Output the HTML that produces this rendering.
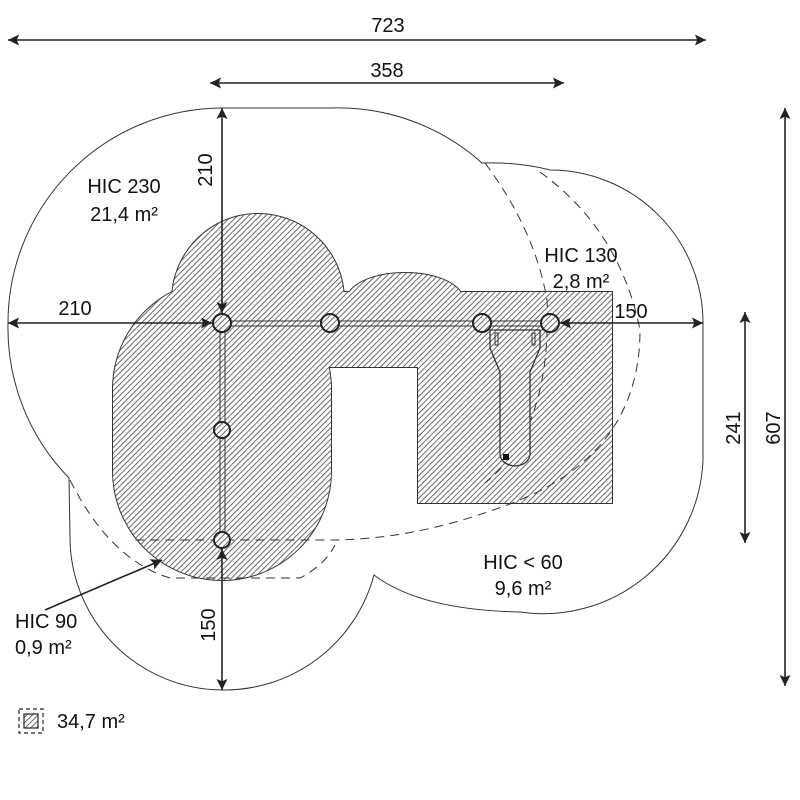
<!DOCTYPE html>
<html><head><meta charset="utf-8"><style>
body{margin:0;background:#fff}
svg{display:block}
text{font-family:"Liberation Sans","DejaVu Sans",sans-serif;fill:#111}
</style></head><body>
<svg width="800" height="800" viewBox="0 0 800 800" xmlns="http://www.w3.org/2000/svg">
<defs>
<pattern id="h" width="4" height="4" patternUnits="userSpaceOnUse" patternTransform="rotate(45)">
<rect width="4" height="4" fill="#fff"/>
<line x1="0" y1="0" x2="0" y2="4" stroke="#444" stroke-width="1.6"/>
</pattern>
<marker id="a" viewBox="0 0 10 10" refX="10" refY="5" markerWidth="11" markerHeight="11" markerUnits="userSpaceOnUse" orient="auto-start-reverse">
<path d="M0,0 L10,5 L0,10 L2,5 z" fill="#222"/>
</marker>
</defs>

<!-- outer boundary -->
<path d="M8,323 A215,215 0 0 1 222,108 L330,108 A216,216 0 0 1 482,163 Q520,162 550,170 A153,153 0 0 1 703,323 L703,460 A160,160 0 0 1 520,612 Q420,610 374,575 A155,155 0 0 1 222,690 A153,153 0 0 1 70,537 L69,478 A215,215 0 0 1 8,323 Z" fill="none" stroke="#333" stroke-width="1"/>

<!-- hatched area: stroke layer -->
<g stroke="#333" stroke-width="2" fill="#333">
<circle cx="258" cy="300" r="86"/>
<rect x="113" y="280" width="218" height="300" rx="109" ry="109"/>
<ellipse cx="405" cy="300" rx="58" ry="27"/>
<rect x="300" y="292" width="312" height="75"/>
<rect x="418" y="292" width="194" height="211"/>
</g>
<g fill="url(#h)">
<circle cx="258" cy="300" r="86"/>
<rect x="113" y="280" width="218" height="300" rx="109" ry="109"/>
<ellipse cx="405" cy="300" rx="58" ry="27"/>
<rect x="300" y="292" width="312" height="75"/>
<rect x="418" y="292" width="194" height="211"/>
</g>

<!-- dashed lines -->
<g fill="none" stroke="#333" stroke-width="1" stroke-dasharray="9,6">
<path d="M485,163 Q535,230 547,300 Q552,430 485,483"/>
<path d="M540,172 Q620,230 640,330 Q640,450 520,500 Q420,540 330,540 L130,540"/>
<path d="M70,480 Q110,560 170,578 L300,578 Q325,565 335,545"/>
</g>

<!-- beams -->
<g stroke="#333" stroke-width="1" fill="none">
<line x1="222" y1="321" x2="550" y2="321"/>
<line x1="222" y1="326" x2="550" y2="326"/>
<line x1="220" y1="323" x2="220" y2="540"/>
<line x1="225" y1="323" x2="225" y2="540"/>
</g>

<!-- slide -->
<g fill="url(#h)" stroke="#333" stroke-width="1.3">
<path d="M490,330 L540,330 L540,348 L530,372 L530,455 Q528,465 515,466 Q502,465 500,455 L500,372 L490,348 Z"/>
</g>
<g stroke="#333" fill="none" stroke-width="1">
<rect x="495" y="333" width="3" height="12"/><rect x="532" y="333" width="3" height="12"/>
</g>
<rect x="503" y="454" width="6" height="6" fill="#111"/>

<!-- posts -->
<g fill="url(#h)" stroke="#222" stroke-width="2">
<circle cx="222" cy="323" r="9"/><circle cx="330" cy="323" r="9"/>
<circle cx="482" cy="323" r="9"/><circle cx="550" cy="323" r="9"/>
<circle cx="222" cy="430" r="8"/><circle cx="222" cy="540" r="8"/>
</g>

<!-- dimensions -->
<g stroke="#222" stroke-width="1.6" fill="none" marker-start="url(#a)" marker-end="url(#a)">
<line x1="8" y1="40" x2="706" y2="40"/>
<line x1="210" y1="83" x2="564" y2="83"/>
<line x1="222" y1="108" x2="222" y2="313"/>
<line x1="8" y1="323" x2="212" y2="323"/>
<line x1="560" y1="323" x2="703" y2="323"/>
<line x1="745" y1="312" x2="745" y2="543"/>
<line x1="785" y1="108" x2="785" y2="686"/>
<line x1="222" y1="549" x2="222" y2="690"/>
</g>
<line x1="45" y1="610" x2="162" y2="560" stroke="#222" stroke-width="1.6" marker-end="url(#a)"/>

<g font-size="20">
<text x="388" y="32" text-anchor="middle">723</text>
<text x="387" y="77" text-anchor="middle">358</text>
<text x="75" y="315" text-anchor="middle">210</text>
<text x="631" y="318" text-anchor="middle">150</text>
<text transform="translate(212,170) rotate(-90)" text-anchor="middle">210</text>
<text transform="translate(740,428) rotate(-90)" text-anchor="middle">241</text>
<text transform="translate(780,428) rotate(-90)" text-anchor="middle">607</text>
<text transform="translate(215,625) rotate(-90)" text-anchor="middle">150</text>
<text x="124" y="193" text-anchor="middle">HIC 230</text>
<text x="124" y="221" text-anchor="middle">21,4 m²</text>
<text x="581" y="262" text-anchor="middle">HIC 130</text>
<text x="581" y="288" text-anchor="middle">2,8 m²</text>
<text x="523" y="569" text-anchor="middle">HIC &lt; 60</text>
<text x="523" y="595" text-anchor="middle">9,6 m²</text>
<text x="15" y="628">HIC 90</text>
<text x="15" y="654">0,9 m²</text>
<text x="57" y="728">34,7 m²</text>
</g>
<rect x="19" y="709" width="24" height="24" fill="none" stroke="#222" stroke-width="1.2" stroke-dasharray="4,3"/>
<rect x="24" y="714" width="14" height="14" fill="url(#h)" stroke="#222" stroke-width="1.2"/>
</svg>
</body></html>
